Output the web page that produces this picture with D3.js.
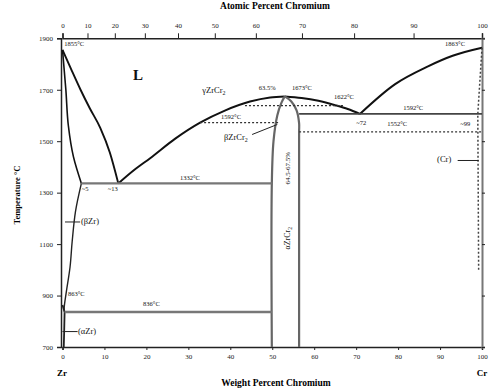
<!DOCTYPE html>
<html><head><meta charset="utf-8">
<script src="https://cdn.jsdelivr.net/npm/d3@7"></script>
<style>
html,body{margin:0;padding:0;background:#fff;}
svg text{font-family:"Liberation Serif","DejaVu Serif",serif;}
</style></head>
<body><svg id="c" width="490" height="392"></svg>
<script>
// ---- data (weight % Cr, temperature °C) ----
const wtTicks = [0,10,20,30,40,50,60,70,80,90,100];
const atTicks = [0,10,20,30,40,50,60,70,80,90,100];
const tempTicks = [700,900,1100,1300,1500,1700,1900];

const liquidusZr = [[0,1855],[2,1782],[4.3,1700],[6.5,1628],[9,1552],[11.3,1455],[13.3,1336]];
const solidusBZr = [[0,1855],[0.8,1700],[1.4,1560],[2.6,1440],[4.5,1336]];
const solvusBZr = [[4.5,1336],[3.1,1227],[2.3,1109],[1.8,1011],[0.9,913],[0.4,850],[0.5,836]];
const solvusAZr = [[0,863],[0.5,836],[0.4,760],[0.3,700]];
const liquidusLavesL = [[13.3,1336],[17.3,1391],[20.9,1434],[26.8,1509],[32.8,1572],[38.7,1619],[44.7,1654],[49.5,1670],[53,1674]];
const liquidusLavesR = [[53,1674],[57,1668],[61,1657],[65,1640],[68,1625],[70.9,1606]];
const liquidusCr = [[70.9,1606],[79.3,1722],[87,1790],[93,1832],[100,1863]];
const lavesLeft = [[49.9,700],[49.9,1336],[50.3,1500],[51.2,1600],[52.2,1650],[53,1674]];
const lavesRight = [[53,1674],[54.5,1655],[55.8,1620],[56.4,1570],[56.4,1536],[56.4,700]];
const solvusCr = [[100,1863],[99,1606],[99.1,1300],[99.2,1000]];
const eutecticZr = [[4.5,1336],[49.9,1336]];
const eutecticCr = [[56.4,1606],[100,1606]];
const eutectoid = [[0.5,836],[49.9,836]];
const dotted1622 = [[43.5,1638],[67.3,1638]];
const dotted1592 = [[32.8,1572],[51.5,1572]];
const dotted1552 = [[56.4,1536],[100,1536]];

// ---- scales ----
const svg = d3.select("#c");
const x = d3.scaleLinear().domain([0,100]).range([62.5,482]);
const y = d3.scaleLinear().domain([700,1900]).range([347,38.3]);
const atToWt = a => 100*a*51.996/(a*51.996+(100-a)*91.224);
const lineX = d3.line().x(d=>x(d[0])).y(d=>y(d[1])).curve(d3.curveMonotoneX);
const lineY = d3.line().x(d=>x(d[0])).y(d=>y(d[1])).curve(d3.curveMonotoneY);
const lineC = d3.line().x(d=>x(d[0])).y(d=>y(d[1])).curve(d3.curveCatmullRom);
const lineL = d3.line().x(d=>x(d[0])).y(d=>y(d[1]));

// ---- axes ----
function styleAxis(g){
  g.selectAll("text").attr("font-size",7).attr("font-family","Liberation Serif, serif").attr("fill","#222");
  g.selectAll("line").attr("stroke","#222");
  g.select(".domain").attr("stroke","#222").attr("stroke-width",1.5);
}
svg.append("g").attr("transform","translate(0,347)")
  .call(d3.axisBottom(x).tickValues(wtTicks).tickSize(3).tickPadding(4).tickFormat(d3.format("d")))
  .call(styleAxis);
svg.append("g").attr("transform","translate(0,38.3)")
  .call(d3.axisTop(x).tickValues(atTicks.map(atToWt)).tickSize(5).tickPadding(5)
    .tickFormat((d,i)=>atTicks[i]))
  .call(styleAxis);
svg.append("g").attr("transform","translate(61,0)")
  .call(d3.axisLeft(y).tickValues(tempTicks).tickSize(4).tickPadding(4).tickFormat(d3.format("d")))
  .call(styleAxis);
svg.append("g").attr("transform","translate(482,0)")
  .call(d3.axisRight(y).tickValues(tempTicks).tickSize(3).tickFormat(""))
  .call(g=>{styleAxis(g); g.select(".domain").attr("stroke","#777").attr("stroke-width",2);});

// ---- phase boundaries ----
function path(data, gen, stroke, w, dash){
  svg.append("path").attr("d",gen(data)).attr("fill","none")
    .attr("stroke",stroke).attr("stroke-width",w)
    .attr("stroke-dasharray",dash||null);
}
path(liquidusZr, lineX, "#111", 1.9);
path(solidusBZr, lineY, "#111", 1.6);
path(solvusBZr, lineC, "#222", 1.4);
path(solvusAZr, lineL, "#222", 1.8);
path(liquidusLavesL, lineX, "#111", 2);
path(liquidusLavesR, lineX, "#111", 2);
path(liquidusCr, lineX, "#111", 2);
path(lavesLeft, lineC, "#666", 2.2);
path(lavesRight, lineC, "#666", 2.2);
path(solvusCr, lineL, "#444", 1.5, "2,2");
path(eutecticZr, lineL, "#777", 2.4);
path(eutecticCr, lineL, "#444", 1.8);
path(eutectoid, lineL, "#777", 2.4);
path(dotted1622, lineL, "#333", 1.2, "2,2");
path(dotted1592, lineL, "#333", 1.2, "2,2");
path(dotted1552, lineL, "#333", 1.2, "2,2");

// leaders
const leaders = [[[0.6,1186],[4.2,1186]],[[0,760],[3.6,760]],[[94.2,1425],[99.2,1425]],[[45.2,1526],[51.2,1565]]];
leaders.forEach(l=>path(l, lineL, "#222", 1));

// ---- labels ----
function label(wt,T,txt,size,opts){
  opts=opts||{};
  const t = svg.append("text").attr("x",x(wt)).attr("y",y(T))
    .attr("font-size",size).attr("fill","#111")
    .attr("font-weight",opts.bold?"bold":"normal")
    .attr("text-anchor",opts.anchor||"start");
  if(opts.sub){
    t.append("tspan").text(txt);
    t.append("tspan").attr("dy",2).attr("font-size",size*0.7).text(opts.sub);
  } else t.text(txt);
  if(opts.rotate) t.attr("transform",`rotate(-90,${x(wt)},${y(T)})`);
  return t;
}
label(0.4,1870,"1855°C",6.5);
label(91.2,1870,"1863°C",6.5);
label(16.8,1738,"L",15,{bold:true});
label(33.3,1687,"γZrCr",8.5,{sub:"2"});
label(46.8,1699,"63.5%",6.5);
label(54.7,1699,"1673°C",6.5);
label(64.7,1664,"1622°C",6.5);
label(37.8,1586,"1592°C",6.5);
label(38.5,1505,"βZrCr",8.5,{sub:"2"});
label(70,1563,"~72",6.5);
label(81.2,1621,"1592°C",6.5);
label(77.4,1559,"1552°C",6.5);
label(94.8,1559,"~99",6.5);
label(89.3,1419,"(Cr)",8.5);
label(28,1349,"1332°C",6.5);
label(4.6,1306,"~5",6.5);
label(10.8,1306,"~13",6.5);
label(4.4,1178,"(βZr)",8.5);
label(1.3,898,"863°C",6.5);
label(19.2,859,"836°C",6.5);
label(3.7,752,"(αZr)",8.5);
label(54.3,1395,"64.5-67.5%",7,{rotate:true,anchor:"middle"});
label(54.3,1123,"αZrCr",8,{rotate:true,anchor:"middle",sub:"2"});

// axis titles
svg.append("text").attr("x",275).attr("y",9).attr("text-anchor","middle")
  .attr("font-size",9.5).attr("font-weight","bold").text("Atomic Percent Chromium");
svg.append("text").attr("x",276).attr("y",386).attr("text-anchor","middle")
  .attr("font-size",9.5).attr("font-weight","bold").text("Weight Percent Chromium");
svg.append("text").attr("transform","translate(20,195) rotate(-90)").attr("text-anchor","middle")
  .attr("font-size",8.5).attr("font-weight","bold").text("Temperature °C");
svg.append("text").attr("x",62).attr("y",376).attr("text-anchor","middle")
  .attr("font-size",9).attr("font-weight","bold").text("Zr");
svg.append("text").attr("x",482).attr("y",376).attr("text-anchor","middle")
  .attr("font-size",9).attr("font-weight","bold").text("Cr");
</script></body></html>
